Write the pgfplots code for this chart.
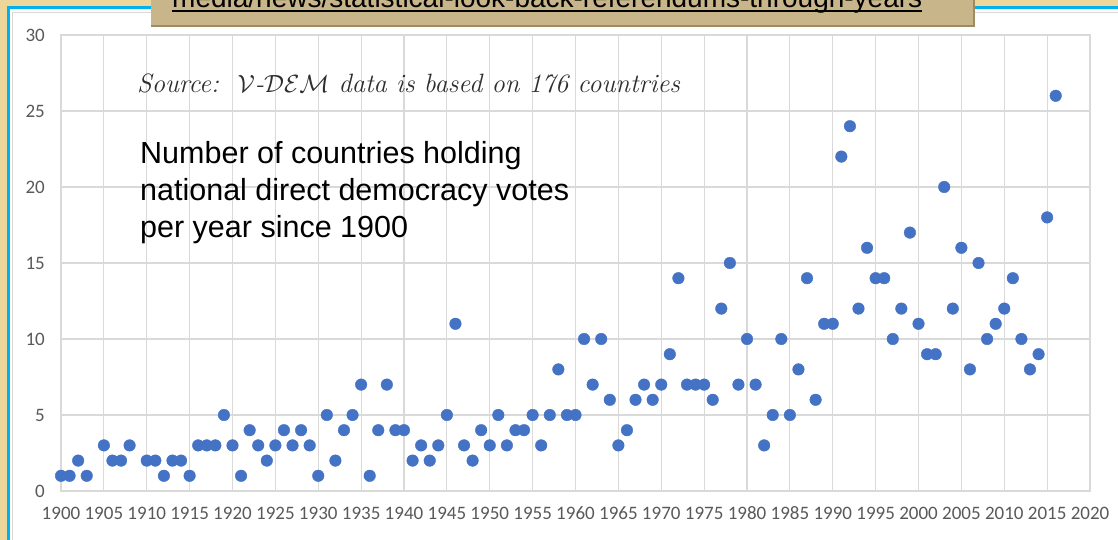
\documentclass[border=0pt]{standalone}
\usepackage{pgfplots}
\pgfplotsset{compat=1.18}
\usepackage{fontspec}
\newfontfamily\carlito{Carlito}
\newfontfamily\libsans{Liberation Sans}
\definecolor{dotblue}{HTML}{4472C4}
\definecolor{gridgray}{HTML}{D9D9D9}
\definecolor{ticktext}{HTML}{595959}
\definecolor{tan}{HTML}{ECD69A}
\definecolor{boxtan}{HTML}{C8B68A}
\definecolor{boxshadow}{HTML}{9C8C66}
\definecolor{frameblue}{HTML}{00B0F0}

\begin{document}
\begin{tikzpicture}[x=1pt,y=1pt]
\useasboundingbox (0,0) rectangle (1118,540);
\clip (0,0) rectangle (1118,540);
% page background and frame
\fill[white] (0,0) rectangle (1118,540);
\fill[tan] (0,533) rectangle (1118,540);
\fill[tan] (0,0) rectangle (7,540);
\fill[frameblue] (7,0) rectangle (9.5,533);
\fill[frameblue] (7,531) rectangle (1118,533.5);
\draw[gridgray, line width=1.2pt] (12.5,0) -- (12.5,527.5) -- (1118,527.5);

\begin{axis}[
    at={(61pt,49pt)}, anchor=south west,
    scale only axis,
    width=1029pt, height=456pt,
    xmin=1900, xmax=2020,
    ymin=0, ymax=30,
    xtick={1900,1905,...,2020},
    ytick={0,5,...,30},
    grid=major,
    major grid style={gridgray, line width=1.2pt},
    axis line style={gridgray, line width=1.2pt},
    tick style={draw=none},
    clip=false,
    /pgf/number format/assume math mode=true,
    /pgf/number format/1000 sep={},
    tick label style={font=\carlito\fontsize{19}{22}\selectfont, text=ticktext, inner sep=0pt},
    xticklabel style={anchor=base, yshift=-29pt},
    yticklabel style={anchor=east, xshift=-16pt},
  ]
  \addplot[only marks, mark=*, mark size=5.8pt, color=dotblue] coordinates {
    (1900,1) (1901,1) (1902,2) (1903,1) (1905,3) (1906,2) (1907,2) (1908,3)
    (1910,2) (1911,2) (1912,1) (1913,2) (1914,2) (1915,1) (1916,3) (1917,3)
    (1918,3) (1919,5) (1920,3) (1921,1) (1922,4) (1923,3) (1924,2) (1925,3)
    (1926,4) (1927,3) (1928,4) (1929,3) (1930,1) (1931,5) (1932,2) (1933,4)
    (1934,5) (1935,7) (1936,1) (1937,4) (1938,7) (1939,4) (1940,4) (1941,2)
    (1942,3) (1943,2) (1944,3) (1945,5) (1946,11) (1947,3) (1948,2) (1949,4)
    (1950,3) (1951,5) (1952,3) (1953,4) (1954,4) (1955,5) (1956,3) (1957,5)
    (1958,8) (1959,5) (1960,5) (1961,10) (1962,7) (1963,10) (1964,6) (1965,3)
    (1966,4) (1967,6) (1968,7) (1969,6) (1970,7) (1971,9) (1972,14) (1973,7)
    (1974,7) (1975,7) (1976,6) (1977,12) (1978,15) (1979,7) (1980,10) (1981,7)
    (1982,3) (1983,5) (1984,10) (1985,5) (1986,8) (1987,14) (1988,6) (1989,11)
    (1990,11) (1991,22) (1992,24) (1993,12) (1994,16) (1995,14) (1996,14) (1997,10)
    (1998,12) (1999,17) (2000,11) (2001,9) (2002,9) (2003,20) (2004,12) (2005,16)
    (2006,8) (2007,15) (2008,10) (2009,11) (2010,12) (2011,14) (2012,10) (2013,8)
    (2014,9) (2015,18) (2016,26)
  };
\end{axis}

% annotations
\node[anchor=base west, inner sep=0pt, text=black!82, font=\fontsize{26.5}{29}\selectfont\itshape]
  at (137,447) {Source:\ \ $\mathcal{V}$-$\mathcal{DEM}$ data is based on \oldstylenums{176} countries};
\node[anchor=base west, inner sep=0pt, font=\libsans\fontsize{30.5}{37}\selectfont]
  at (140,376) {Number of countries holding};
\node[anchor=base west, inner sep=0pt, font=\libsans\fontsize{30.5}{37}\selectfont]
  at (140,339) {national direct democracy votes};
\node[anchor=base west, inner sep=0pt, font=\libsans\fontsize{30.5}{37}\selectfont]
  at (140,302) {per year since 1900};

% link box at top
\fill[boxshadow] (151,513) rectangle (975,545);
\fill[boxtan] (151,515) rectangle (972.5,545);
\node (u) [anchor=base west, inner sep=0pt, font=\libsans\fontsize{28}{30}\selectfont]
  at (172,532) {media/news/statistical-look-back-referendums-through-years};
\draw[line width=1.8pt] ([yshift=-2.8pt]u.base west) -- ([yshift=-2.8pt]u.base east);
\end{tikzpicture}
\end{document}
